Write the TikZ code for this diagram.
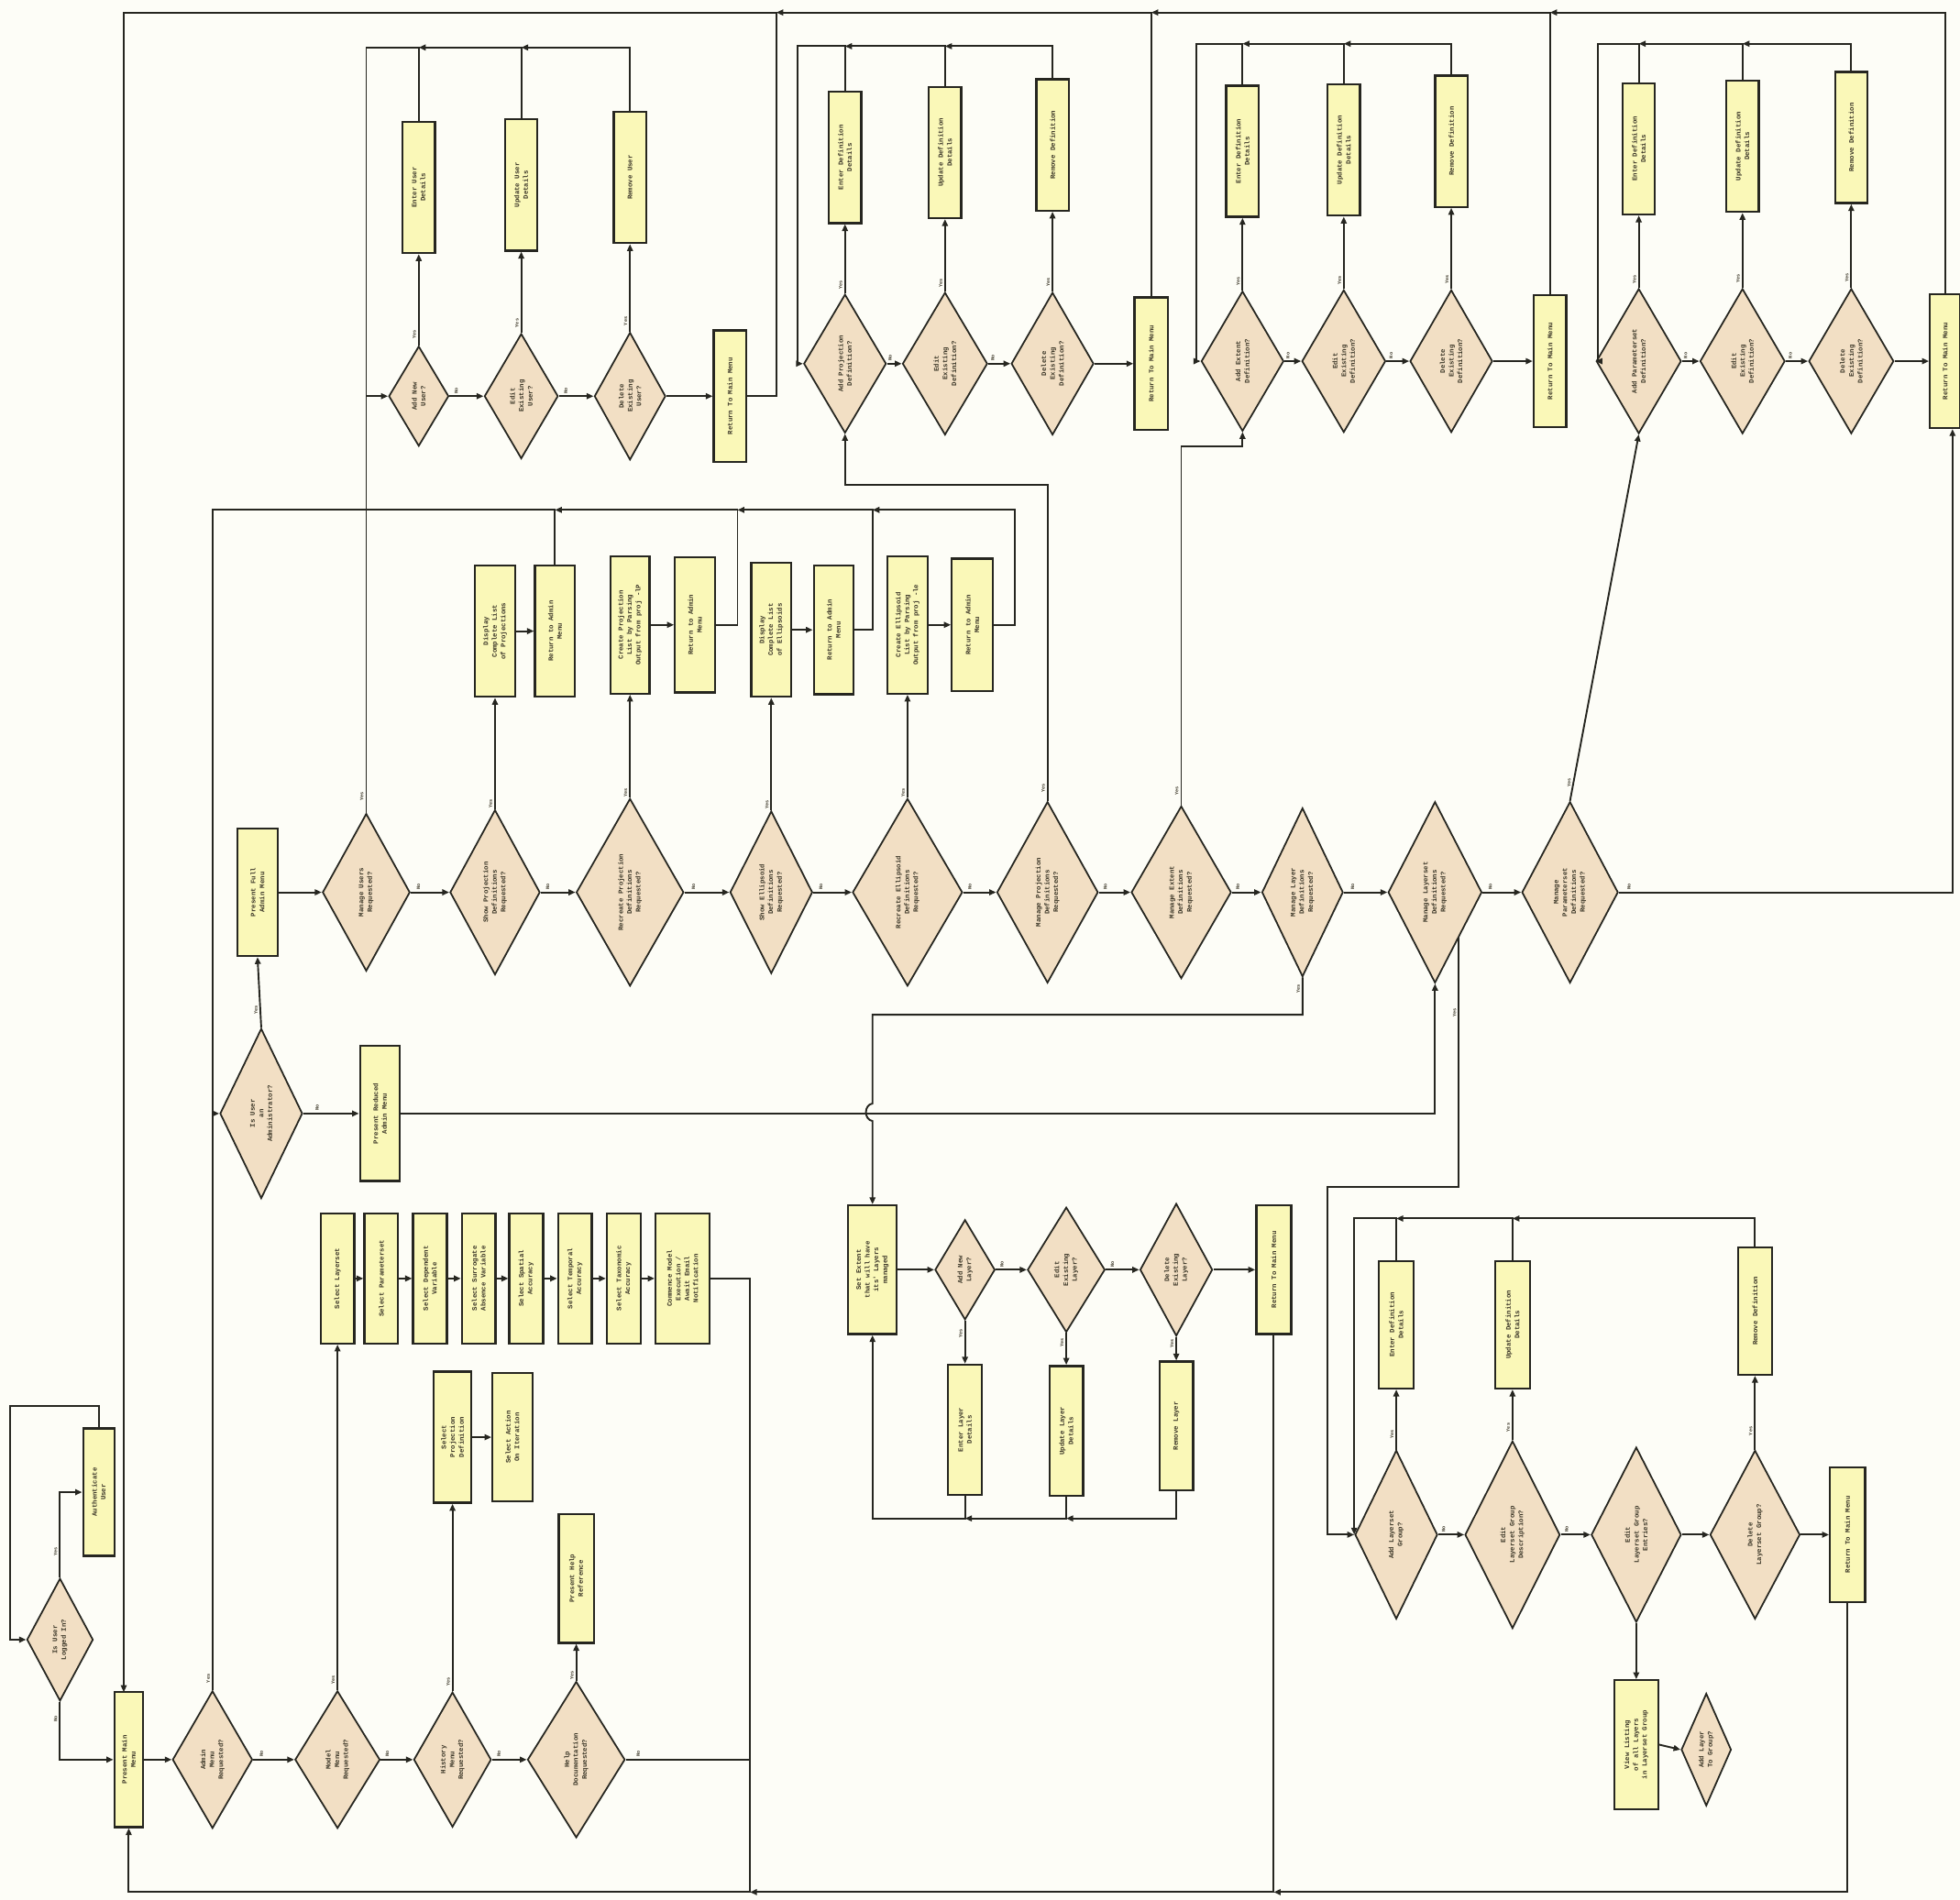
\documentclass[tikz,border=0pt]{standalone}
\usepackage{fontspec}
\newfontfamily\dfont{Liberation Mono}
\usetikzlibrary{shapes.geometric,arrows.meta}
\definecolor{linec}{RGB}{38,38,32}
\definecolor{boxc}{RGB}{250,248,184}
\definecolor{diac}{RGB}{242,223,196}
\definecolor{bgc}{RGB}{253,253,247}
\definecolor{textc}{RGB}{60,55,40}
\newcommand\bx[6]{\node[bxs,minimum width=#4pt,minimum height=#5pt] (#1) at (#2,#3) {}; \node[txt] (#1t) at (#1.center) {#6};}
\newcommand\dm[6]{\node[dms,minimum width=#4pt,minimum height=#5pt] (#1) at (#2,#3) {}; \node[txt] (#1t) at (#1.center) {#6};}
\begin{document}
\begin{tikzpicture}[x=1pt,y=-1pt,
  ln/.style={draw=linec,line width=1.4pt},
  ar/.style={ln,-{Triangle[length=5.5pt,width=4.6pt]}},
  bxs/.style={rectangle,draw=linec,line width=1.7pt,fill=boxc,inner sep=0pt},
  dms/.style={diamond,draw=linec,line width=1.3pt,fill=diac,inner sep=0pt},
  txt/.style={rotate=90,align=center,inner sep=0pt,text=textc,font=\dfont\bfseries\fontsize{5.4}{7}\selectfont},
  yl/.style={rotate=90,anchor=south,inner sep=1.5pt,text=textc,font=\dfont\bfseries\fontsize{3.8}{4}\selectfont},
  nl/.style={rotate=90,anchor=west,inner sep=1.5pt,text=textc,font=\dfont\bfseries\fontsize{3.8}{4}\selectfont}]
\fill[bgc] (0,0) rectangle (1568,1520);
\useasboundingbox (0,0) rectangle (1568,1520);

% ---------- Section A: users
\dm{addUser}{335}{317}{48}{80}{Add New\\User?}
\bx{entUser}{335}{150}{26}{105}{Enter User\\Details}
\dm{editUser}{417}{317}{59}{100}{Edit\\Existing\\User?}
\bx{updUser}{417}{148}{26}{105}{Update User\\Details}
\dm{delUser}{504}{317}{57}{102}{Delete\\Existing\\User?}
\bx{remUser}{504}{142}{26}{105}{Remove User}
\bx{retUser}{584}{317}{26}{105}{Return To Main Menu}

% ---------- Section B: projection
\dm{addProj}{676}{291}{66}{111}{Add Projection\\Definition?}
\bx{entProj}{676}{126}{26}{105}{Enter Definition\\Details}
\dm{editProj}{756}{291}{68}{114}{Edit\\Existing\\Definition?}
\bx{updProj}{756}{122}{26}{105}{Update Definition\\Details}
\dm{delProj}{842}{291}{66}{114}{Delete\\Existing\\Definition?}
\bx{remProj}{842}{116}{26}{105}{Remove Definition}
\bx{retProj}{921}{291}{27}{106}{Return To Main Menu}

% ---------- Section C: extent
\dm{addExt}{994}{289}{66}{112}{Add Extent\\Definition?}
\bx{entExt}{994}{121}{26}{105}{Enter Definition\\Details}
\dm{editExt}{1075}{289}{67}{114}{Edit\\Existing\\Definition?}
\bx{updExt}{1075}{120}{26}{105}{Update Definition\\Details}
\dm{delExt}{1161}{289}{66}{114}{Delete\\Existing\\Definition?}
\bx{remExt}{1161}{113}{26}{105}{Remove Definition}
\bx{retExt}{1240}{289}{26}{106}{Return To Main Menu}

% ---------- Section D: parameterset
\dm{addPar}{1311}{289}{68}{116}{Add Parameterset\\Definition?}
\bx{entPar}{1311}{119}{26}{105}{Enter Definition\\Details}
\dm{editPar}{1394}{289}{68}{116}{Edit\\Existing\\Definition?}
\bx{updPar}{1394}{117}{26}{105}{Update Definition\\Details}
\dm{delPar}{1481}{289}{68}{116}{Delete\\Existing\\Definition?}
\bx{remPar}{1481}{110}{26}{105}{Remove Definition}
\bx{retPar}{1556}{289}{24}{107}{Return To Main Menu}

% ---------- Middle row
\bx{fullAdmin}{206}{714}{32}{102}{Present Full\\Admin Menu}
\dm{mUsers}{293}{714}{70}{126}{Manage Users\\Requested?}
\dm{showProj}{396}{714}{72}{132}{Show Projection\\Definitions\\Requested?}
\dm{recProj}{504}{714}{86}{150}{Recreate Projection\\Definitions\\Requested?}
\dm{showEll}{617}{714}{66}{130}{Show Ellipsoid\\Definitions\\Requested?}
\dm{recEll}{726}{714}{88}{150}{Recreate Ellipsoid\\Definitions\\Requested?}
\dm{mProj}{838}{714}{81}{145}{Manage Projection\\Definitions\\Requested?}
\dm{mExt}{945}{714}{80}{138}{Manage Extent\\Definitions\\Requested?}
\dm{mLayer}{1042}{714}{65}{135}{Manage Layer\\Definitions\\Requested?}
\dm{mLS}{1148}{714}{75}{145}{Manage Layerset\\Definitions\\Requested?}
\dm{mPar}{1256}{714}{77}{145}{Manage\\Parameterset\\Definitions\\Requested?}

% ---------- Section E: lists
\bx{dispProj}{396}{505}{32}{105}{Display\\Complete List\\of Projections}
\bx{ret1}{444}{505}{32}{105}{Return to Admin\\Menu}
\bx{crProj}{504}{500}{31}{110}{Create Projection\\List by Parsing\\Output from proj -lP}
\bx{ret2}{556}{500}{32}{108}{Return to Admin\\Menu}
\bx{dispEll}{617}{504}{32}{107}{Display\\Complete List\\of Ellipsoids}
\bx{ret3}{667}{504}{32}{103}{Return to Admin\\Menu}
\bx{crEll}{726}{500}{32}{110}{Create Ellipsoid\\List by Parsing\\Output from proj -le}
\bx{ret4}{778}{500}{33}{106}{Return to Admin\\Menu}

% ---------- Admin
\dm{isAdmin}{209}{891}{66}{136}{Is User\\an\\Administrator?}
\bx{redAdmin}{304}{891}{32}{108}{Present Reduced\\Admin Menu}

% ---------- Bottom left
\dm{logged}{48}{1312}{53}{98}{Is User\\Logged In?}
\bx{auth}{79}{1194}{25}{102}{Authenticate\\User}
\bx{pmm}{103}{1408}{23}{108}{Present Main\\Menu}
\dm{adminQ}{170}{1408}{64}{110}{Admin\\Menu\\Requested?}
\dm{modelQ}{270}{1408}{68}{110}{Model\\Menu\\Requested?}
\dm{histQ}{362}{1408}{62}{108}{History\\Menu\\Requested?}
\dm{helpQ}{461}{1408}{78}{125}{Help\\Documentation\\Requested?}
\bx{helpRef}{461}{1263}{28}{103}{Present Help\\Reference}
\bx{selProj}{362}{1150}{30}{105}{Select\\Projection\\Definition}
\bx{selAct}{410}{1150}{32}{103}{Select Action\\On Iteration}
\bx{sLS}{270}{1023}{27}{104}{Select Layerset}
\bx{sPS}{305}{1023}{27}{104}{Select Parameterset}
\bx{sDV}{344}{1023}{27}{104}{Select Dependent\\Variable}
\bx{sSA}{383}{1023}{27}{104}{Select Surrogate\\Absence Variable}
\bx{sSp}{421}{1023}{27}{104}{Select Spatial\\Accuracy}
\bx{sTe}{460}{1023}{27}{104}{Select Temporal\\Accuracy}
\bx{sTa}{499}{1023}{27}{104}{Select Taxonomic\\Accuracy}
\bx{comm}{546}{1023}{43}{104}{Commence Model\\Execution /\\Await Email\\Notification}

% ---------- Layer
\bx{setExt}{698}{1016}{39}{103}{Set Extent\\that will have\\its' Layers\\managed}
\dm{addLayer}{772}{1016}{48}{80}{Add New\\Layer?}
\dm{editLayer}{853}{1016}{62}{100}{Edit\\Existing\\Layer?}
\dm{delLayer}{941}{1016}{58}{106}{Delete\\Existing\\Layer?}
\bx{retLayer}{1019}{1016}{28}{103}{Return To Main Menu}
\bx{entLayer}{772}{1144}{27}{104}{Enter Layer\\Details}
\bx{updLayer}{853}{1145}{27}{104}{Update Layer\\Details}
\bx{remLayer}{941}{1141}{27}{103}{Remove Layer}

% ---------- Layerset
\dm{addLS}{1117}{1228}{66}{135}{Add Layerset\\Group?}
\dm{editLSD}{1210}{1228}{76}{150}{Edit\\Layerset Group\\Description?}
\dm{editLSE}{1309}{1228}{72}{140}{Edit\\Layerset Group\\Entries?}
\dm{delLS}{1404}{1228}{72}{135}{Delete\\Layerset Group?}
\bx{retLS}{1478}{1228}{28}{108}{Return To Main Menu}
\bx{entLS}{1117}{1060}{28}{102}{Enter Definition\\Details}
\bx{updLS}{1210}{1060}{28}{102}{Update Definition\\Details}
\bx{remLS}{1404}{1049}{27}{102}{Remove Definition}
\bx{viewL}{1309}{1396}{35}{103}{View Listing\\of all Layers\\in Layerset Group}
\dm{addLG}{1365}{1400}{40}{90}{Add Layer\\To Group?}

% ================= connectors
% main top loop
\draw[ar] (retPar.north) -- (retPar.north |- 0,10) -- (retExt.north |- 0,10);
\draw[ar] (retExt.north) -- (retExt.north |- 0,10) -- (retProj.north |- 0,10);
\draw[ar] (retProj.north) -- (retProj.north |- 0,10) -- (621,10);
\draw[ar] (retUser.east) -- (621,317) -- (621,10) -- (99,10) -- (99,1354);

% A
\draw[ar] (addUser.north) -- node[yl,pos=.12]{Yes} (entUser.south);
\draw[ar] (editUser.north) -- node[yl,pos=.12]{Yes} (updUser.south);
\draw[ar] (delUser.north) -- node[yl,pos=.12]{Yes} (remUser.south);
\draw[ar] (addUser.east) -- node[nl,pos=.2]{No} (editUser.west);
\draw[ar] (editUser.east) -- node[nl,pos=.2]{No} (delUser.west);
\draw[ar] (delUser.east) -- (retUser.west);
\draw[ar] (entUser.north) -- (entUser.north |- 0,38) -- (mUsers.north |- 0,38) -- (mUsers.north |- addUser.west) -- (addUser.west);
\draw[ar] (updUser.north) -- (updUser.north |- 0,38) -- (entUser.north |- 0,38);
\draw[ar] (remUser.north) -- (remUser.north |- 0,38) -- (updUser.north |- 0,38);
\draw[ln] (mUsers.north) -- node[yl,pos=.04]{Yes} (mUsers.north |- addUser.west);

% B
\draw[ar] (addProj.north) -- node[yl,pos=.12]{Yes} (entProj.south);
\draw[ar] (editProj.north) -- node[yl,pos=.12]{Yes} (updProj.south);
\draw[ar] (delProj.north) -- node[yl,pos=.12]{Yes} (remProj.south);
\draw[ar] (addProj.east) -- node[nl,pos=.2]{No} (editProj.west);
\draw[ar] (editProj.east) -- node[nl,pos=.2]{No} (delProj.west);
\draw[ar] (delProj.east) -- (retProj.west);
\draw[ar] (entProj.north) -- (entProj.north |- 0,37) -- (638,37) -- (638,291) -- (addProj.west);
\draw[ar] (updProj.north) -- (updProj.north |- 0,37) -- (entProj.north |- 0,37);
\draw[ar] (remProj.north) -- (remProj.north |- 0,37) -- (updProj.north |- 0,37);
\draw[ar] (mProj.north) -- node[yl,pos=.04]{Yes} (mProj.north |- 0,388) -- (addProj.south |- 0,388) -- (addProj.south);

% C
\draw[ar] (addExt.north) -- node[yl,pos=.12]{Yes} (entExt.south);
\draw[ar] (editExt.north) -- node[yl,pos=.12]{Yes} (updExt.south);
\draw[ar] (delExt.north) -- node[yl,pos=.12]{Yes} (remExt.south);
\draw[ar] (addExt.east) -- node[nl,pos=.2]{No} (editExt.west);
\draw[ar] (editExt.east) -- node[nl,pos=.2]{No} (delExt.west);
\draw[ar] (delExt.east) -- (retExt.west);
\draw[ar] (entExt.north) -- (entExt.north |- 0,35) -- (957,35) -- (957,289) -- (addExt.west);
\draw[ar] (updExt.north) -- (updExt.north |- 0,35) -- (entExt.north |- 0,35);
\draw[ar] (remExt.north) -- (remExt.north |- 0,35) -- (updExt.north |- 0,35);
\draw[ar] (mExt.north) -- node[yl,pos=.04]{Yes} (mExt.north |- 0,357) -- (addExt.south |- 0,357) -- (addExt.south);

% D
\draw[ar] (addPar.north) -- node[yl,pos=.12]{Yes} (entPar.south);
\draw[ar] (editPar.north) -- node[yl,pos=.12]{Yes} (updPar.south);
\draw[ar] (delPar.north) -- node[yl,pos=.12]{Yes} (remPar.south);
\draw[ar] (addPar.east) -- node[nl,pos=.2]{No} (editPar.west);
\draw[ar] (editPar.east) -- node[nl,pos=.2]{No} (delPar.west);
\draw[ar] (delPar.east) -- (retPar.west);
\draw[ar] (entPar.north) -- (entPar.north |- 0,35) -- (1278,35) -- (1278,289) -- (addPar.west);
\draw[ar] (updPar.north) -- (updPar.north |- 0,35) -- (entPar.north |- 0,35);
\draw[ar] (remPar.north) -- (remPar.north |- 0,35) -- (updPar.north |- 0,35);
\draw[ar] (mPar.north) -- node[yl,pos=.05]{Yes} (addPar.south);
\coordinate (rpB) at ([xshift=6pt]retPar.south);
\draw[ar] (mPar.east) -- node[nl,pos=.03]{No} (rpB |- mPar.east) -- (rpB);

% middle row
\draw[ar] (fullAdmin.east) -- (mUsers.west);
\draw[ar] (mUsers.east) -- node[nl,pos=.2]{No} (showProj.west);
\draw[ar] (showProj.east) -- node[nl,pos=.2]{No} (recProj.west);
\draw[ar] (recProj.east) -- node[nl,pos=.2]{No} (showEll.west);
\draw[ar] (showEll.east) -- node[nl,pos=.2]{No} (recEll.west);
\draw[ar] (recEll.east) -- node[nl,pos=.2]{No} (mProj.west);
\draw[ar] (mProj.east) -- node[nl,pos=.2]{No} (mExt.west);
\draw[ar] (mExt.east) -- node[nl,pos=.2]{No} (mLayer.west);
\draw[ar] (mLayer.east) -- node[nl,pos=.2]{No} (mLS.west);
\draw[ar] (mLS.east) -- node[nl,pos=.2]{No} (mPar.west);
\draw[ar] (showProj.north) -- node[yl,pos=.05]{Yes} (dispProj.south);
\draw[ar] (recProj.north) -- node[yl,pos=.05]{Yes} (crProj.south);
\draw[ar] (showEll.north) -- node[yl,pos=.05]{Yes} (dispEll.south);
\draw[ar] (recEll.north) -- node[yl,pos=.05]{Yes} (crEll.south);

% E
\draw[ar] (dispProj.east) -- (ret1.west);
\draw[ar] (crProj.east) -- (ret2.west);
\draw[ar] (dispEll.east) -- (ret3.west);
\draw[ar] (crEll.east) -- (ret4.west);
\draw[ar] (ret4.east) -- (812,500) -- (812,408) -- (698,408);
\draw[ar] (ret3.east) -- (698,504) -- (698,408) -- (590,408);
\draw[ar] (ret2.east) -- (590,500) -- (590,408) -- (444,408);
\draw[ar] (ret1.north) -- (444,408) -- (170,408) -- (170,891) -- (isAdmin.west);
\draw[ln] (adminQ.north) -- node[yl,pos=.02]{Yes} (170,891);

% admin
\draw[ar] (isAdmin.north) -- node[yl,pos=.25]{Yes} (fullAdmin.south);
\draw[ar] (isAdmin.east) -- node[nl,pos=.25]{No} (redAdmin.west);
\draw[ar] (redAdmin.east) -- (redAdmin.east -| mLS.south) -- (mLS.south);

% layer
\draw[ar] (mLayer.south) -- node[yl,pos=.3]{Yes} (mLayer.south |- 0,812) -- (setExt.north |- 0,812) -- (setExt.north |- 0,883) .. controls (691,884) and (691,896) .. (setExt.north |- 0,897) -- (setExt.north);
\draw[ar] (setExt.east) -- (addLayer.west);
\draw[ar] (addLayer.east) -- node[nl,pos=.2]{No} (editLayer.west);
\draw[ar] (editLayer.east) -- node[nl,pos=.2]{No} (delLayer.west);
\draw[ar] (delLayer.east) -- (retLayer.west);
\draw[ar] (addLayer.south) -- node[yl,pos=.3]{Yes} (entLayer.north);
\draw[ar] (editLayer.south) -- node[yl,pos=.3]{Yes} (updLayer.north);
\draw[ar] (delLayer.south) -- node[yl,pos=.3]{Yes} (remLayer.north);
\draw[ar] (entLayer.south) -- (entLayer.south |- 0,1215) -- (setExt.south |- 0,1215) -- (setExt.south);
\draw[ar] (updLayer.south) -- (updLayer.south |- 0,1215) -- (entLayer.south |- 0,1215);
\draw[ar] (remLayer.south) -- (remLayer.south |- 0,1215) -- (updLayer.south |- 0,1215);

% layerset
\draw[ar] (mLS.south east) -- node[yl,pos=.3]{Yes} (mLS.south east |- 0,950) -- (1062,950) -- (1062,1228) -- (addLS.west);
\draw[ar] (entLS.north) -- (entLS.north |- 0,975) -- (addLS.west |- 0,975) -- (addLS.west);
\draw[ar] (updLS.north) -- (updLS.north |- 0,975) -- (entLS.north |- 0,975);
\draw[ar] (remLS.north) -- (remLS.north |- 0,975) -- (updLS.north |- 0,975);
\draw[ar] (addLS.north) -- node[yl,pos=.25]{Yes} (entLS.south);
\draw[ar] (editLSD.north) -- node[yl,pos=.25]{Yes} (updLS.south);
\draw[ar] (delLS.north) -- node[yl,pos=.25]{Yes} (remLS.south);
\draw[ar] (addLS.east) -- node[nl,pos=.2]{No} (editLSD.west);
\draw[ar] (editLSD.east) -- node[nl,pos=.2]{No} (editLSE.west);
\draw[ar] (editLSE.east) -- (delLS.west);
\draw[ar] (delLS.east) -- (retLS.west);
\draw[ar] (editLSE.south) -- (viewL.north);
\draw[ar] (viewL.east) -- (addLG.west);

% bottom left
\draw[ar] (logged.north) -- node[yl,pos=.3]{Yes} (logged.north |- auth.west) -- (auth.west);
\draw[ar] (auth.north) -- (auth.north |- 0,1125) -- (8,1125) -- (8,1312) -- (logged.west);
\draw[ar] (logged.south) -- node[yl,pos=.3]{No} (logged.south |- pmm.west) -- (pmm.west);
\draw[ar] (pmm.east) -- (adminQ.west);
\draw[ar] (adminQ.east) -- node[nl,pos=.2]{No} (modelQ.west);
\draw[ar] (modelQ.east) -- node[nl,pos=.2]{No} (histQ.west);
\draw[ar] (histQ.east) -- node[nl,pos=.2]{No} (helpQ.west);
\draw[ar] (modelQ.north) -- node[yl,pos=.03]{Yes} (sLS.south);
\draw[ar] (histQ.north) -- node[yl,pos=.05]{Yes} (selProj.south);
\draw[ar] (helpQ.north) -- node[yl,pos=.15]{Yes} (helpRef.south);
\draw[ar] (selProj.east) -- (selAct.west);
\draw[ar] (sLS.east) -- (sPS.west);
\draw[ar] (sPS.east) -- (sDV.west);
\draw[ar] (sDV.east) -- (sSA.west);
\draw[ar] (sSA.east) -- (sSp.west);
\draw[ar] (sSp.east) -- (sTe.west);
\draw[ar] (sTe.east) -- (sTa.west);
\draw[ar] (sTa.east) -- (comm.west);
\draw[ln] (helpQ.east) -- node[nl,pos=.1]{No} (600,1408);
\draw[ar] (comm.east) -- (600,1023) -- (600,1514) -- (pmm.south |- 0,1514) -- (pmm.south);
\draw[ar] (retLayer.south) -- (retLayer.south |- 0,1514) -- (600,1514);
\draw[ar] (retLS.south) -- (retLS.south |- 0,1514) -- (retLayer.south |- 0,1514);
\end{tikzpicture}
\end{document}
